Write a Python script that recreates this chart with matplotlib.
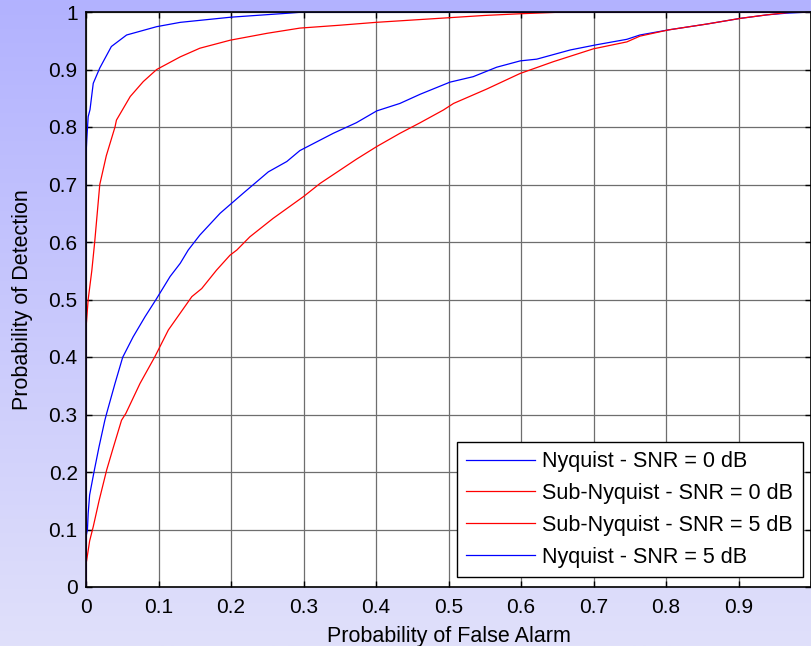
import numpy as np
import matplotlib
matplotlib.use("Agg")
import matplotlib.pyplot as plt

# ---- data ----
nyq0_x = [0, 0, 0.002, 0.003, 0.005, 0.011, 0.018, 0.026, 0.0285, 0.040, 0.0506, 0.065, 0.0814, 0.0966,
          0.116, 0.130, 0.141, 0.157, 0.185, 0.217, 0.2515, 0.277, 0.295, 0.341, 0.373, 0.401, 0.433,
          0.461, 0.502, 0.534, 0.5665, 0.599, 0.6217, 0.668, 0.704, 0.746, 0.764, 0.804, 0.856, 0.903,
          0.939, 0.9665, 1.0]
nyq0_y = [0, 0.087, 0.10, 0.128, 0.16, 0.20, 0.244, 0.29, 0.302, 0.354, 0.3995, 0.435, 0.47, 0.50,
          0.54, 0.563, 0.586, 0.612, 0.65, 0.685, 0.722, 0.74, 0.759, 0.789, 0.8075, 0.828, 0.841,
          0.857, 0.878, 0.8875, 0.904, 0.915, 0.918, 0.934, 0.943, 0.9525, 0.96, 0.969, 0.979, 0.989,
          0.995, 0.998, 1.0]

sub0_x = [0, 0, 0.001, 0.005, 0.010, 0.018, 0.0285, 0.0368, 0.049, 0.055, 0.0745, 0.095, 0.1136,
          0.146, 0.1596, 0.180, 0.1986, 0.208, 0.226, 0.258, 0.300, 0.323, 0.373, 0.401, 0.433, 0.461,
          0.493, 0.507, 0.5527, 0.5986, 0.6446, 0.70, 0.746, 0.764, 0.804, 0.856, 0.903, 0.939, 0.975, 1.0]
sub0_y = [0, 0.04, 0.047, 0.08, 0.105, 0.15, 0.2035, 0.239, 0.29, 0.302, 0.354, 0.4005, 0.447,
          0.505, 0.519, 0.551, 0.577, 0.586, 0.609, 0.641, 0.679, 0.702, 0.744, 0.766, 0.789, 0.8075,
          0.8296, 0.841, 0.866, 0.893, 0.9136, 0.936, 0.948, 0.958, 0.969, 0.979, 0.989, 0.995, 1.0, 1.0]

sub5_x = [0, 0, 0.003, 0.008, 0.012, 0.019, 0.028, 0.04, 0.042, 0.061, 0.079, 0.0975, 0.13, 0.157,
          0.199, 0.25, 0.295, 0.35, 0.40, 0.45, 0.50, 0.55, 0.60, 0.66, 1.0]
sub5_y = [0, 0.45, 0.50, 0.55, 0.60, 0.70, 0.75, 0.80, 0.812, 0.853, 0.879, 0.90, 0.922, 0.937,
          0.951, 0.963, 0.972, 0.977, 0.982, 0.986, 0.99, 0.994, 0.997, 1.0, 1.0]

nyq5_x = [0, 0, 0.001, 0.003, 0.0055, 0.010, 0.019, 0.035, 0.056, 0.0975, 0.13, 0.20, 0.28, 0.30, 1.0]
nyq5_y = [0, 0.75, 0.777, 0.818, 0.83, 0.876, 0.9026, 0.94, 0.96, 0.9745, 0.982, 0.991, 0.998, 1.0, 1.0]

labels = ["Nyquist - SNR = 0 dB", "Sub-Nyquist - SNR = 0 dB",
          "Sub-Nyquist - SNR = 5 dB", "Nyquist - SNR = 5 dB"]
xticks = [0, 0.1, 0.2, 0.3, 0.4, 0.5, 0.6, 0.7, 0.8, 0.9, 1.0]
xticklabels = ["0", "0.1", "0.2", "0.3", "0.4", "0.5", "0.6", "0.7", "0.8", "0.9", ""]
yticks = [0, 0.1, 0.2, 0.3, 0.4, 0.5, 0.6, 0.7, 0.8, 0.9, 1.0]
yticklabels = ["0", "0.1", "0.2", "0.3", "0.4", "0.5", "0.6", "0.7", "0.8", "0.9", "1"]

plt.rcParams['font.family'] = ['Liberation Sans', 'DejaVu Sans']

W, H = 811, 646
fig = plt.figure(figsize=(W / 100, H / 100), dpi=100)

# background gradient
bg = fig.add_axes([0, 0, 1, 1], zorder=-10)
top = np.array([178, 178, 255]) / 255.0
bot = np.array([224, 224, 250]) / 255.0
t = np.linspace(0, 1, 256)[:, None]
grad = top[None, :] * (1 - t) + bot[None, :] * t
bg.imshow(grad[:, None, :], aspect='auto', extent=[0, 1, 0, 1])
bg.set_axis_off()

left = 86 / W
bottom = (H - 587) / H
top_ = (H - 12) / H
ax = fig.add_axes([left, bottom, 1.0 - left, top_ - bottom])
ax.set_facecolor('white')

lw = 0.9
ax.plot(nyq0_x, nyq0_y, color=(0, 0, 1), lw=lw, label=labels[0])
ax.plot(sub0_x, sub0_y, color=(1, 0, 0), lw=lw, label=labels[1])
ax.plot(sub5_x, sub5_y, color=(1, 0, 0), lw=lw, label=labels[2])
ax.plot(nyq5_x, nyq5_y, color=(0, 0, 1), lw=lw, label=labels[3])

ax.set_xlim(0, 1)
ax.set_ylim(0, 1)
ax.set_xticks(xticks)
ax.set_xticklabels(xticklabels)
ax.set_yticks(yticks)
ax.set_yticklabels(yticklabels)
ax.tick_params(direction='in', length=4, width=1, top=True, right=True,
               labelsize=15, color='black')
ax.tick_params(axis='x', pad=8)
ax.tick_params(axis='y', pad=6)
ax.grid(True, color='#6e6e6e', lw=0.9, linestyle='-')
ax.set_axisbelow(True)
for s in ax.spines.values():
    s.set_linewidth(1.2)
    s.set_color('black')

ax.set_xlabel("Probability of False Alarm", fontsize=15.5, va='top')
ax.xaxis.set_label_coords(0.5, -0.068)
ax.set_ylabel("Probability of Detection", fontsize=15.5, va='center')
ax.yaxis.set_label_coords(-0.087, 0.5)

leg = ax.legend(loc='lower right', bbox_to_anchor=(0.989, 0.017), fontsize=15.5,
                frameon=True, fancybox=False, shadow=False, framealpha=1,
                edgecolor='black', handlelength=3.2, handletextpad=0.33,
                labelspacing=0.5, borderpad=0.45, borderaxespad=0)
leg.get_frame().set_linewidth(1.0)

fig.savefig("out.png", dpi=100)
